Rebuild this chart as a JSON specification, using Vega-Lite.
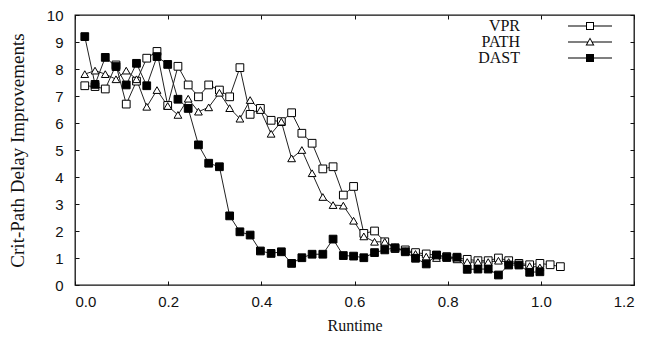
{
  "$schema": "https://vega.github.io/schema/vega-lite/v6.json",
  "width": 559,
  "height": 270,
  "autosize": {"type": "none"},
  "padding": {"left": 75, "top": 15, "right": 17, "bottom": 63},
  "background": "white",
  "config": {
    "view": {"stroke": "#111", "strokeWidth": 1.3},
    "axis": {"grid": false, "domain": false, "tickColor": "#111", "tickWidth": 1, "labelColor": "#111", "titleColor": "#111", "labelFont": "Liberation Sans", "labelFontSize": 15, "titleFont": "Liberation Serif", "titleFontSize": 16, "titleFontWeight": "normal"}
  },
  "data": {"values": [
    {"series":"VPR","runtime":0.021,"delay":7.38},{"series":"VPR","runtime":0.043,"delay":7.35},{"series":"VPR","runtime":0.065,"delay":7.26},{"series":"VPR","runtime":0.088,"delay":8.15},{"series":"VPR","runtime":0.110,"delay":6.7},{"series":"VPR","runtime":0.132,"delay":7.55},{"series":"VPR","runtime":0.154,"delay":8.4},{"series":"VPR","runtime":0.176,"delay":8.65},{"series":"VPR","runtime":0.199,"delay":6.65},{"series":"VPR","runtime":0.221,"delay":8.1},{"series":"VPR","runtime":0.243,"delay":7.41},{"series":"VPR","runtime":0.265,"delay":6.97},{"series":"VPR","runtime":0.287,"delay":7.41},{"series":"VPR","runtime":0.310,"delay":7.22},{"series":"VPR","runtime":0.332,"delay":6.97},{"series":"VPR","runtime":0.354,"delay":8.05},{"series":"VPR","runtime":0.376,"delay":6.32},{"series":"VPR","runtime":0.398,"delay":6.54},{"series":"VPR","runtime":0.421,"delay":6.1},{"series":"VPR","runtime":0.443,"delay":6.05},{"series":"VPR","runtime":0.465,"delay":6.38},{"series":"VPR","runtime":0.487,"delay":5.62},{"series":"VPR","runtime":0.509,"delay":5.25},{"series":"VPR","runtime":0.532,"delay":4.3},{"series":"VPR","runtime":0.554,"delay":4.38},{"series":"VPR","runtime":0.576,"delay":3.33},{"series":"VPR","runtime":0.598,"delay":3.65},{"series":"VPR","runtime":0.620,"delay":1.91},{"series":"VPR","runtime":0.643,"delay":2.0},{"series":"VPR","runtime":0.665,"delay":1.6},{"series":"VPR","runtime":0.687,"delay":1.35},{"series":"VPR","runtime":0.709,"delay":1.3},{"series":"VPR","runtime":0.731,"delay":1.2},{"series":"VPR","runtime":0.754,"delay":1.15},{"series":"VPR","runtime":0.776,"delay":1.1},{"series":"VPR","runtime":0.798,"delay":1.05},{"series":"VPR","runtime":0.820,"delay":1.0},{"series":"VPR","runtime":0.842,"delay":0.95},{"series":"VPR","runtime":0.865,"delay":0.9},{"series":"VPR","runtime":0.887,"delay":0.9},{"series":"VPR","runtime":0.909,"delay":1.0},{"series":"VPR","runtime":0.931,"delay":0.9},{"series":"VPR","runtime":0.953,"delay":0.8},{"series":"VPR","runtime":0.976,"delay":0.75},{"series":"VPR","runtime":0.998,"delay":0.8},{"series":"VPR","runtime":1.020,"delay":0.75},{"series":"VPR","runtime":1.042,"delay":0.68},
    {"series":"PATH","runtime":0.021,"delay":7.81},{"series":"PATH","runtime":0.043,"delay":7.94},{"series":"PATH","runtime":0.065,"delay":7.81},{"series":"PATH","runtime":0.088,"delay":7.62},{"series":"PATH","runtime":0.110,"delay":7.94},{"series":"PATH","runtime":0.132,"delay":7.62},{"series":"PATH","runtime":0.154,"delay":6.6},{"series":"PATH","runtime":0.176,"delay":7.22},{"series":"PATH","runtime":0.199,"delay":6.63},{"series":"PATH","runtime":0.221,"delay":6.3},{"series":"PATH","runtime":0.243,"delay":6.9},{"series":"PATH","runtime":0.265,"delay":6.42},{"series":"PATH","runtime":0.287,"delay":6.58},{"series":"PATH","runtime":0.310,"delay":7.12},{"series":"PATH","runtime":0.332,"delay":6.55},{"series":"PATH","runtime":0.354,"delay":6.16},{"series":"PATH","runtime":0.376,"delay":6.85},{"series":"PATH","runtime":0.398,"delay":6.48},{"series":"PATH","runtime":0.421,"delay":5.6},{"series":"PATH","runtime":0.443,"delay":6.05},{"series":"PATH","runtime":0.465,"delay":4.69},{"series":"PATH","runtime":0.487,"delay":5.0},{"series":"PATH","runtime":0.509,"delay":4.14},{"series":"PATH","runtime":0.532,"delay":3.26},{"series":"PATH","runtime":0.554,"delay":2.96},{"series":"PATH","runtime":0.576,"delay":2.94},{"series":"PATH","runtime":0.598,"delay":2.38},{"series":"PATH","runtime":0.620,"delay":1.8},{"series":"PATH","runtime":0.643,"delay":1.6},{"series":"PATH","runtime":0.665,"delay":1.6},{"series":"PATH","runtime":0.687,"delay":1.4},{"series":"PATH","runtime":0.709,"delay":1.25},{"series":"PATH","runtime":0.731,"delay":1.15},{"series":"PATH","runtime":0.754,"delay":1.05},{"series":"PATH","runtime":0.776,"delay":1.0},{"series":"PATH","runtime":0.798,"delay":1.0},{"series":"PATH","runtime":0.820,"delay":0.95},{"series":"PATH","runtime":0.842,"delay":0.85},{"series":"PATH","runtime":0.865,"delay":0.85},{"series":"PATH","runtime":0.887,"delay":0.85},{"series":"PATH","runtime":0.909,"delay":0.9},{"series":"PATH","runtime":0.931,"delay":0.85},{"series":"PATH","runtime":0.953,"delay":0.75},{"series":"PATH","runtime":0.976,"delay":0.7},{"series":"PATH","runtime":0.998,"delay":0.65},
    {"series":"DAST","runtime":0.021,"delay":9.2},{"series":"DAST","runtime":0.043,"delay":7.43},{"series":"DAST","runtime":0.065,"delay":8.43},{"series":"DAST","runtime":0.088,"delay":8.09},{"series":"DAST","runtime":0.110,"delay":7.41},{"series":"DAST","runtime":0.132,"delay":8.21},{"series":"DAST","runtime":0.154,"delay":7.38},{"series":"DAST","runtime":0.176,"delay":8.46},{"series":"DAST","runtime":0.199,"delay":8.17},{"series":"DAST","runtime":0.221,"delay":6.88},{"series":"DAST","runtime":0.243,"delay":6.54},{"series":"DAST","runtime":0.265,"delay":5.19},{"series":"DAST","runtime":0.287,"delay":4.51},{"series":"DAST","runtime":0.310,"delay":4.38},{"series":"DAST","runtime":0.332,"delay":2.56},{"series":"DAST","runtime":0.354,"delay":1.97},{"series":"DAST","runtime":0.376,"delay":1.85},{"series":"DAST","runtime":0.398,"delay":1.26},{"series":"DAST","runtime":0.421,"delay":1.17},{"series":"DAST","runtime":0.443,"delay":1.23},{"series":"DAST","runtime":0.465,"delay":0.8},{"series":"DAST","runtime":0.487,"delay":1.01},{"series":"DAST","runtime":0.509,"delay":1.14},{"series":"DAST","runtime":0.532,"delay":1.14},{"series":"DAST","runtime":0.554,"delay":1.7},{"series":"DAST","runtime":0.576,"delay":1.09},{"series":"DAST","runtime":0.598,"delay":1.07},{"series":"DAST","runtime":0.620,"delay":1.01},{"series":"DAST","runtime":0.643,"delay":1.2},{"series":"DAST","runtime":0.665,"delay":1.3},{"series":"DAST","runtime":0.687,"delay":1.38},{"series":"DAST","runtime":0.709,"delay":1.23},{"series":"DAST","runtime":0.731,"delay":0.99},{"series":"DAST","runtime":0.754,"delay":0.78},{"series":"DAST","runtime":0.776,"delay":1.11},{"series":"DAST","runtime":0.798,"delay":1.03},{"series":"DAST","runtime":0.820,"delay":1.03},{"series":"DAST","runtime":0.842,"delay":0.58},{"series":"DAST","runtime":0.865,"delay":0.59},{"series":"DAST","runtime":0.887,"delay":0.59},{"series":"DAST","runtime":0.909,"delay":0.37},{"series":"DAST","runtime":0.931,"delay":0.74},{"series":"DAST","runtime":0.953,"delay":0.74},{"series":"DAST","runtime":0.976,"delay":0.47},{"series":"DAST","runtime":0.998,"delay":0.49}
  ]},
  "resolve": {
    "scale": {"shape": "independent", "fill": "independent"},
    "axis": {"x": "independent", "y": "independent"}
  },
  "layer": [
    {
      "mark": {"type": "line", "color": "#222", "strokeWidth": 1},
      "encoding": {
        "x": {"field": "runtime", "type": "quantitative", "scale": {"domain": [0, 1.2], "nice": false, "zero": false},
              "axis": {"orient": "bottom", "values": [0, 0.2, 0.4, 0.6, 0.8, 1, 1.2], "tickSize": -4, "labelPadding": 13, "labelBaseline": "top", "title": "Runtime", "titleX": 279.5, "titleY": 40, "titleBaseline": "middle", "titleAlign": "center"}},
        "y": {"field": "delay", "type": "quantitative", "scale": {"domain": [0, 10], "nice": false},
              "axis": {"orient": "left", "values": [0,1,2,3,4,5,6,7,8,9,10], "tickSize": -4, "labelPadding": 16, "labelAlign": "right", "labelBaseline": "middle", "title": "Crit-Path Delay Improvements", "titleFontSize": 19, "titleAngle": -90, "titleX": -58, "titleY": 135, "titleAlign": "center", "titleBaseline": "middle"}},
        "detail": {"field": "series"}
      }
    },
    {
      "mark": {"type": "point", "stroke": "black", "strokeWidth": 1, "opacity": 1, "fillOpacity": 1, "size": 60},
      "encoding": {
        "x": {"field": "runtime", "type": "quantitative", "axis": {"orient": "top", "values": [0, 0.2, 0.4, 0.6, 0.8, 1, 1.2], "tickSize": -4, "labels": false, "title": null}},
        "y": {"field": "delay", "type": "quantitative", "axis": {"orient": "right", "values": [0,1,2,3,4,5,6,7,8,9,10], "tickSize": -4, "labels": false, "title": null}},
        "shape": {"field": "series", "type": "nominal", "scale": {"domain": ["VPR", "PATH", "DAST"], "range": ["square", "triangle-up", "square"]}, "legend": null},
        "fill": {"field": "series", "type": "nominal", "scale": {"domain": ["VPR", "PATH", "DAST"], "range": ["white", "white", "black"]}, "legend": null}
      }
    },
    {
      "transform": [{"filter": "datum.runtime > 5"}],
      "mark": {"type": "point", "filled": true, "color": "black", "opacity": 1},
      "encoding": {
        "shape": {"field": "series", "type": "nominal",
          "scale": {"domain": ["VPR", "PATH", "DAST"], "range": [
            "M-2.75,-0.07H-0.5V0.07H-2.75ZM0.5,-0.07H2.75V0.07H0.5ZM-0.5,-0.5H0.5V0.5H-0.5ZM-0.375,-0.375V0.375H0.375V-0.375Z",
            "M-2.75,-0.07H-0.3V0.07H-2.75ZM0.3,-0.07H2.75V0.07H0.3ZM0,-0.56L0.56,0.44H-0.56ZM0,-0.33L-0.35,0.32H0.35Z",
            "M-2.75,-0.07H-0.5V0.07H-2.75ZM0.5,-0.07H2.75V0.07H0.5ZM-0.5,-0.5H0.5V0.5H-0.5Z"]},
          "legend": {"orient": "none", "legendX": 507, "legendY": 3, "title": null, "padding": 0, "symbolSize": 256, "symbolFillColor": "black", "symbolStrokeWidth": 0, "symbolOpacity": 1, "labelFont": "Liberation Serif", "labelFontSize": 16, "labelColor": "#111", "labelAlign": "right", "labelOffset": -78, "rowPadding": 0}}
      }
    }
  ]
}
